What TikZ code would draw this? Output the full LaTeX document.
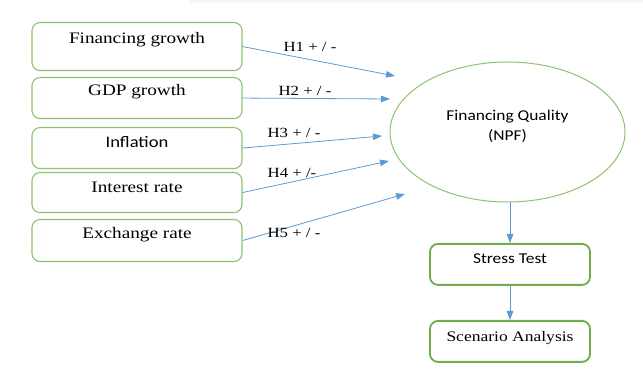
\documentclass[tikz,border=0pt]{standalone}
\usepackage{fontspec}
\setmainfont{Liberation Serif}[FakeStretch=1.2]
\newfontfamily\calib{Carlito}[FakeStretch=1.16]
\usetikzlibrary{arrows.meta,shapes.geometric}
\definecolor{boxgreen}{RGB}{141,194,111}
\definecolor{darkgreen}{RGB}{112,173,71}
\definecolor{arrowblue}{RGB}{91,155,213}

\begin{document}
\begin{tikzpicture}[x=1pt,y=-1pt,
    inbox/.style={draw=boxgreen, line width=1.1pt, rounded corners=8pt, anchor=north,
        minimum width=210pt, inner sep=0pt, font=\fontsize{16}{18}\selectfont},
    outbox/.style={draw=darkgreen, line width=1.8pt, rounded corners=8pt, anchor=north,
        minimum width=160pt, inner sep=0pt},
    link/.style={draw=arrowblue, line width=0.8pt, -{Triangle[length=9pt,width=6.5pt]}},
    hyp/.style={font=\fontsize{14}{16}\selectfont}]
    \useasboundingbox (0,0) rectangle (643,387);
    \fill[gray!7] (190,0) rectangle (643,3);

    % Determinants
    \node[inbox, text height=21pt, text depth=27pt] (fin) at (137,22) {Financing growth};
    \node[inbox, text height=18pt, text depth=23pt] (gdp) at (137,77) {GDP growth};
    \node[inbox, text height=20pt, text depth=21pt] (inf) at (137,127) {\calib Inflation};
    \node[inbox, text height=20pt, text depth=20pt] (rate) at (137,172) {Interest rate};
    \node[inbox, text height=19pt, text depth=23pt] (fx) at (137,219) {Exchange rate};

    % Financing quality
    \node[ellipse, draw=boxgreen, line width=1pt, minimum width=235pt, minimum height=140pt,
        inner sep=0pt] (npf) at (507.5,132) {};
    \node[align=center, font=\calib\fontsize{15}{20}\selectfont] (npftext) at (507.5,126)
        {Financing Quality\\(NPF)};

    % Stress test and scenario
    \node[outbox, text height=20pt, text depth=21pt,
        font=\calib\fontsize{15}{18}\selectfont] (stress) at (510,243) {Stress Test};
    \node[outbox, text height=21pt, text depth=20pt,
        font=\fontsize{14.6}{18}\selectfont] (scen) at (510,320) {Scenario Analysis};

    % Hypotheses
    \coordinate (h1) at (395,76);
    \coordinate (h2) at (390,99);
    \coordinate (h3) at (382,136);
    \coordinate (h4) at (389,161);
    \coordinate (h5) at (405,194);
    \draw[link] (fin.east) -- (h1);
    \draw[link] (gdp.east) -- (h2);
    \draw[link] (inf.east) -- (h3);
    \draw[link] (rate.east) -- (h4);
    \draw[link] (fx.east) -- (h5);
    \node[hyp] (lab1) at (310,47) {H1 + / -};
    \node[hyp] (lab2) at (305,91) {H2 + / -};
    \node[hyp] (lab3) at (294,133) {H3 + / -};
    \node[hyp] (lab4) at (292,173) {H4 + /-};
    \node[hyp] (lab5) at (294,233) {H5 + / -};

    \draw[link] (npf.south -| stress.north) -- (stress.north);
    \draw[link] (stress.south) -- (scen.north);
\end{tikzpicture}
\end{document}
